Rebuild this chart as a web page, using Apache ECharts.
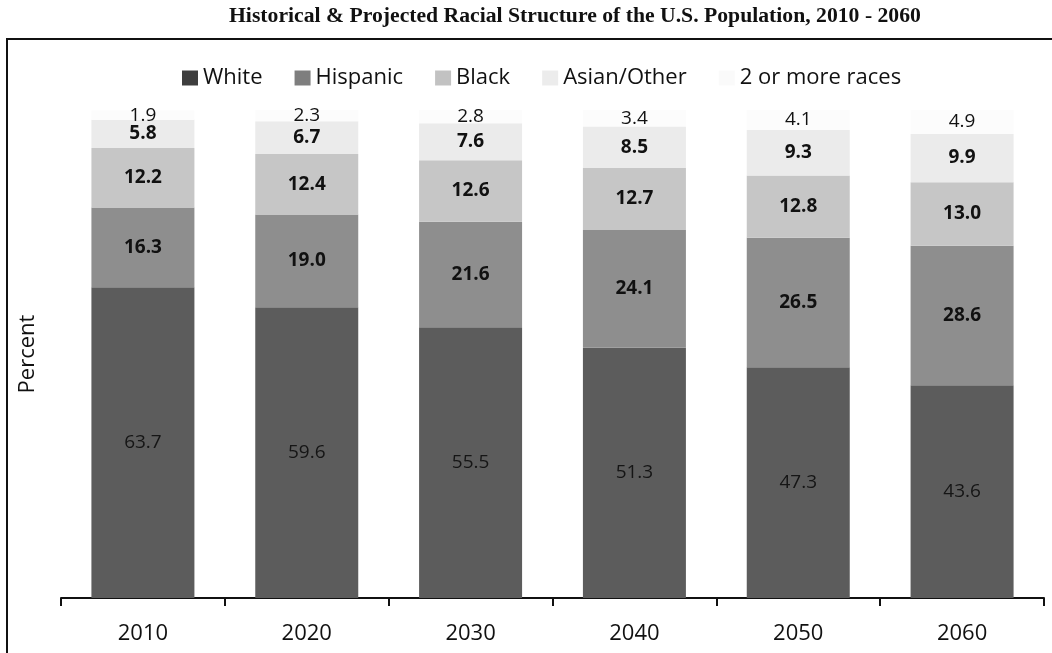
<!DOCTYPE html>
<html>
<head>
<meta charset="utf-8">
<script src="https://cdn.jsdelivr.net/npm/echarts@6/dist/echarts.min.js"></script>
<style>
html,body{margin:0;padding:0;background:#fff;}
#chart{width:1052px;height:653px;}
</style>
</head>
<body>
<div id="chart"></div>
<script>
const years = ['2010', '2020', '2030', '2040', '2050', '2060'];
const white = [63.7, 59.6, 55.5, 51.3, 47.3, 43.6];
const hispanic = [16.3, 19.0, 21.6, 24.1, 26.5, 28.6];
const black = [12.2, 12.4, 12.6, 12.7, 12.8, 13.0];
const asianOther = [5.8, 6.7, 7.6, 8.5, 9.3, 9.9];
const twoOrMore = [1.9, 2.3, 2.8, 3.4, 4.1, 4.9];

const chart = echarts.init(document.getElementById('chart'));

function mkSeries(name, data, color, labelColor, weight) {
  return {
    name: name,
    type: 'bar',
    stack: 'total',
    data: data,
    barWidth: 103,
    itemStyle: { color: color },
    label: {
      show: true,
      position: 'inside',
      formatter: p => p.value.toFixed(1),
      fontFamily: 'Open Sans',
      fontSize: 19,
      fontWeight: weight,
      color: labelColor
    }
  };
}

chart.setOption({
  animation: false,
  backgroundColor: '#ffffff',
  title: {
    text: 'Historical & Projected Racial Structure of the U.S. Population, 2010 - 2060',
    left: 224,
    top: 0,
    textStyle: { fontFamily: 'Liberation Serif', fontWeight: 'bold', fontSize: 21.7, color: '#111' }
  },
  graphic: [{
    type: 'rect',
    shape: { x: 7, y: 39, width: 1100, height: 700 },
    style: { fill: 'none', stroke: '#111', lineWidth: 2 },
    silent: true,
    z: 100
  }],
  legend: {
    top: 62,
    left: 177,
    icon: 'rect',
    itemWidth: 16,
    itemHeight: 15,
    itemGap: 32,
    textStyle: { fontFamily: 'Open Sans', fontSize: 22, color: '#111' },
    data: [
      { name: 'White', itemStyle: { color: '#3e3e3e' } },
      { name: 'Hispanic', itemStyle: { color: '#7e7e7e' } },
      { name: 'Black', itemStyle: { color: '#c2c2c2' } },
      { name: 'Asian/Other', itemStyle: { color: '#ececec' } },
      { name: '2 or more races', itemStyle: { color: '#fafafa' } }
    ]
  },
  grid: { left: 61, right: 8, top: 110, bottom: 55 },
  xAxis: {
    type: 'category',
    data: years,
    axisLine: { lineStyle: { color: '#111', width: 2 } },
    axisTick: { show: true, length: 8, lineStyle: { color: '#111', width: 2 } },
    axisLabel: { fontFamily: 'Open Sans', fontSize: 22, color: '#111', margin: 25 }
  },
  yAxis: {
    type: 'value',
    min: 0,
    max: 100,
    name: 'Percent',
    nameLocation: 'middle',
    nameGap: 22,
    nameTextStyle: { fontFamily: 'Open Sans', fontSize: 22, color: '#111' },
    axisLine: { show: false },
    axisTick: { show: false },
    axisLabel: { show: false },
    splitLine: { show: false }
  },
  series: [
    mkSeries('White', white, '#5c5c5c', '#151515', 'normal'),
    mkSeries('Hispanic', hispanic, '#8e8e8e', '#111', 'bold'),
    mkSeries('Black', black, '#c6c6c6', '#111', 'bold'),
    mkSeries('Asian/Other', asianOther, '#ebebeb', '#111', 'bold'),
    mkSeries('2 or more races', twoOrMore, '#fcfcfc', '#111', 'normal')
  ]
});
</script>
</body>
</html>
